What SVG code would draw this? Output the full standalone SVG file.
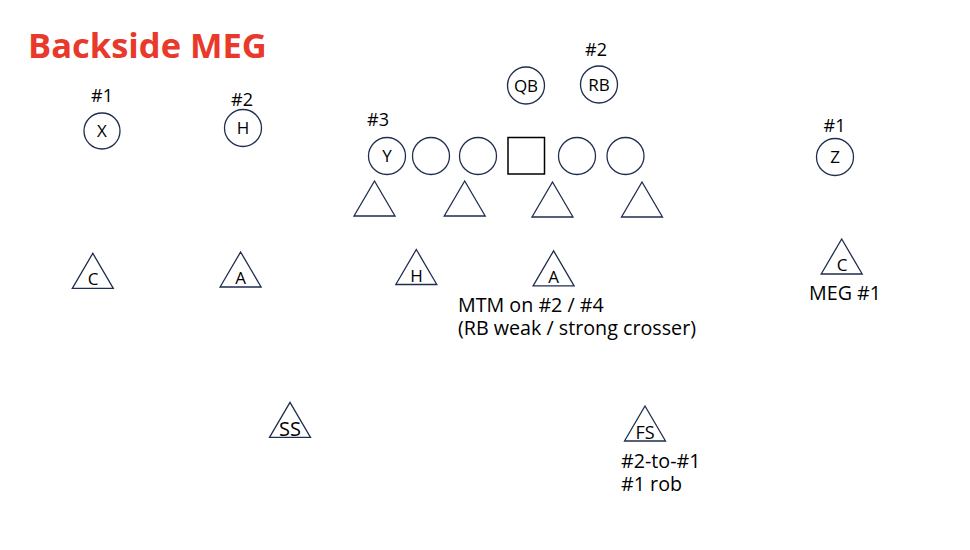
<svg xmlns="http://www.w3.org/2000/svg" xmlns:xlink="http://www.w3.org/1999/xlink" width="970" height="550" viewBox="0 0 970 550">
<style>
.p{fill:#fff;stroke:#1f2d4f;stroke-width:1.3}
.sq{fill:#fff;stroke:#000;stroke-width:1.5}
.t{font-family:"Open Sans","Noto Sans",sans-serif;fill:#000}
.lbl{font-size:17px;text-anchor:middle}
.num{font-size:18px;text-anchor:middle}
.note{font-size:19.7px}
.title{font-family:"Open Sans","Noto Sans",sans-serif;font-weight:bold;font-size:34.5px;fill:#e8392a}
</style>
<defs>
<path id="tri" d="M0,-35 L20.5,0 L-20.5,0 Z" class="p"/>
</defs>
<rect width="970" height="550" fill="#fff"/>
<text class="title" x="28" y="58">Backside MEG</text>

<g id="offense">
<g id="X"><text class="t num" x="102" y="102">#1</text><circle class="p" cx="102" cy="131" r="18"/><text class="t lbl" x="102" y="137">X</text></g>
<g id="H-off"><text class="t num" x="242" y="106">#2</text><circle class="p" cx="243" cy="128" r="18.5"/><text class="t lbl" x="243" y="134">H</text></g>
<g id="Y"><text class="t num" x="378" y="126">#3</text><circle class="p" cx="387" cy="156" r="18.5"/><text class="t lbl" x="387" y="162">Y</text></g>
<g id="OL1"><circle class="p" cx="431" cy="156" r="18.5"/></g>
<g id="OL2"><circle class="p" cx="478" cy="156" r="18.5"/></g>
<g id="C-center"><rect class="sq" x="508" y="137.5" width="36.5" height="36.5"/></g>
<g id="OL4"><circle class="p" cx="577" cy="156" r="18.5"/></g>
<g id="OL5"><circle class="p" cx="625.5" cy="156" r="18.5"/></g>
<g id="QB"><circle class="p" cx="526" cy="85.5" r="18.5"/><text class="t lbl" x="526" y="91.5">QB</text></g>
<g id="RB"><text class="t num" x="596" y="56">#2</text><circle class="p" cx="599" cy="84.5" r="18.5"/><text class="t lbl" x="599" y="90.5">RB</text></g>
<g id="Z"><text class="t num" x="834.5" y="132">#1</text><circle class="p" cx="835" cy="157" r="18.5"/><text class="t lbl" x="835" y="163">Z</text></g>
</g>

<g id="defense">
<g id="DL1"><use xlink:href="#tri" href="#tri" x="374.5" y="216"/></g>
<g id="DL2"><use xlink:href="#tri" href="#tri" x="464.7" y="216"/></g>
<g id="DL3"><use xlink:href="#tri" href="#tri" x="552.5" y="217"/></g>
<g id="DL4"><use xlink:href="#tri" href="#tri" x="642" y="217"/></g>
<g id="C-left"><use xlink:href="#tri" href="#tri" x="92.8" y="288.3"/><text class="t lbl" x="93" y="285">C</text></g>
<g id="A-left"><use xlink:href="#tri" href="#tri" x="240.6" y="287"/><text class="t lbl" x="240.5" y="283.5">A</text></g>
<g id="H-def"><use xlink:href="#tri" href="#tri" x="416.3" y="284.5"/><text class="t lbl" x="416.5" y="281.5">H</text></g>
<g id="A-mid"><use xlink:href="#tri" href="#tri" x="553.6" y="285.8"/><text class="t lbl" x="553.5" y="282.5">A</text></g>
<g id="C-right"><use xlink:href="#tri" href="#tri" x="841.7" y="274"/><text class="t lbl" x="842" y="271">C</text></g>
<g id="SS"><use xlink:href="#tri" href="#tri" x="290" y="437.3"/><text class="t" x="290" y="436" font-size="20" text-anchor="middle">SS</text></g>
<g id="FS"><use xlink:href="#tri" href="#tri" x="645" y="441"/><text class="t" x="645" y="439" font-size="18" text-anchor="middle">FS</text></g>
</g>

<g id="notes">
<text class="t note"><tspan x="458" y="312">MTM on #2 / #4</tspan><tspan x="458" y="335">(RB weak / strong crosser)</tspan></text>
<text class="t note" x="809" y="300">MEG #1</text>
<text class="t note"><tspan x="621" y="468">#2-to-#1</tspan><tspan x="621" y="491">#1 rob</tspan></text>
</g>
<g id="connectors"></g>
</svg>
